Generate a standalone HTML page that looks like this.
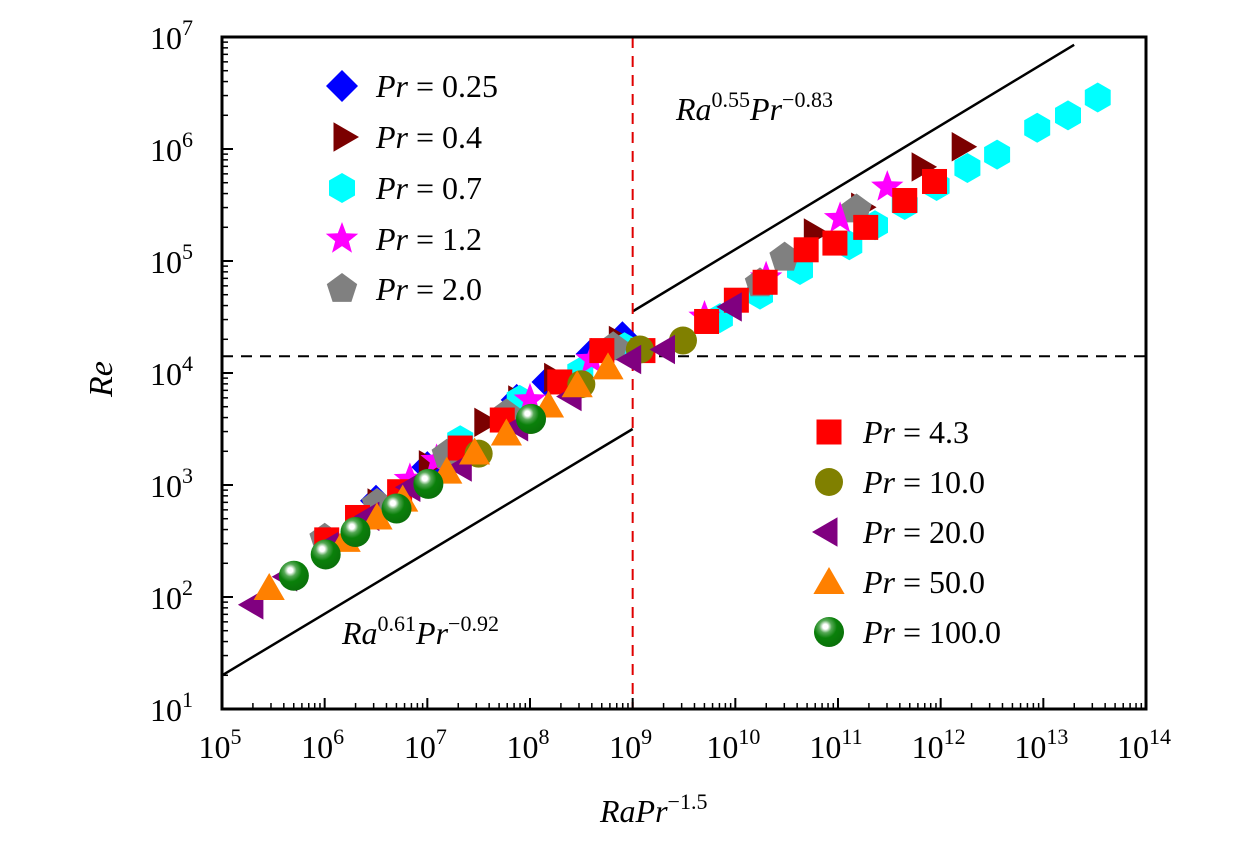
<!DOCTYPE html>
<html><head><meta charset="utf-8">
<style>
html,body{margin:0;padding:0;background:#fff;}
svg{display:block;}
text{font-family:"Liberation Serif",serif;fill:#000;}
</style></head>
<body>
<svg id="chart" width="1260" height="843" viewBox="0 0 1260 843" xmlns="http://www.w3.org/2000/svg">
<defs>
<radialGradient id="ballg" cx="0.38" cy="0.32" r="0.7">
<stop offset="0" stop-color="#ffffff"/>
<stop offset="0.12" stop-color="#ffffff"/>
<stop offset="0.3" stop-color="#55a855"/>
<stop offset="0.55" stop-color="#0a800a"/>
<stop offset="1" stop-color="#0a700a"/>
</radialGradient>
</defs>
<g id="marks"></g>
<g id="axes"></g>
<g id="legend"></g>
</svg>
<script>
// ---- data (log10 values) ----
const xTicks = [5,6,7,8,9,10,11,12,13,14];
const yTicks = [1,2,3,4,5,6,7];
const seriesNames = ["Pr = 0.25","Pr = 0.4","Pr = 0.7","Pr = 1.2","Pr = 2.0","Pr = 4.3","Pr = 10.0","Pr = 20.0","Pr = 50.0","Pr = 100.0"];
const pr025X = [7.30,7.87,8.17,8.60,8.90,6.5,7.0];
const pr025Y = [3.36,3.76,3.92,4.17,4.32,2.86,3.16];
const pr04X = [6.5,7.0,7.54,7.87,8.22,8.85,10.75,11.21,11.80,12.19];
const pr04Y = [2.84,3.18,3.56,3.76,3.96,4.29,5.25,5.48,5.84,6.02];
const pr07X = [7.32,7.90,8.49,8.92,9.85,10.24,10.63,11.11,11.36,11.65,11.96,12.26,12.55,12.94,13.24,13.53];
const pr07Y = [3.40,3.76,4.01,4.23,4.49,4.70,4.92,5.14,5.32,5.50,5.67,5.83,5.95,6.19,6.30,6.46];
const pr12X = [6.83,7.09,8.0,8.6,9.7,10.3,11.02,11.48];
const pr12Y = [3.05,3.22,3.76,4.12,4.50,4.85,5.38,5.66];
const pr20X = [6.0,6.51,7.19,7.77,8.81,10.24,10.48,11.18];
const pr20Y = [2.52,2.83,3.27,3.63,4.23,4.80,5.03,5.46];
const pr43X = [6.02,6.32,6.73,7.32,7.73,8.29,8.7,9.1,9.72,10.01,10.29,10.69,10.97,11.27,11.65,11.94];
const pr43Y = [2.51,2.71,2.94,3.33,3.58,3.92,4.20,4.20,4.46,4.65,4.81,5.10,5.16,5.30,5.54,5.71];
const pr10X = [7.5,8.0,8.5,9.07,9.49];
const pr10Y = [3.28,3.58,3.90,4.21,4.29];
const pr200X = [5.32,5.65,6.05,6.45,6.85,7.35,7.9,8.42,9.0,9.33,9.98];
const pr200Y = [1.93,2.18,2.45,2.72,2.98,3.16,3.52,3.79,4.12,4.21,4.59];
const pr50X = [5.46,6.20,6.51,6.76,7.19,7.46,7.77,8.18,8.46,8.76];
const pr50Y = [2.08,2.51,2.71,2.87,3.12,3.29,3.46,3.71,3.89,4.05];
const pr100X = [5.70,6.01,6.30,6.70,7.01,8.01];
const pr100Y = [2.19,2.38,2.58,2.79,3.01,3.59];
const fitLowX = [5,9];
const fitLowY = [1.30,3.50];
const fitHighX = [9,13.3];
const fitHighY = [4.55,6.93];
const thresholdX = 9;
const thresholdY = 4.15;

// ---- axis functions ----
const L=222,R=1146,T=37,B=709;
const X = v => L + (v-5)/9*(R-L);
const Y = v => B - (v-1)/6*(B-T);
const NS="http://www.w3.org/2000/svg";
function mk(tag, attrs, parent){const e=document.createElementNS(NS,tag);for(const k in attrs)e.setAttribute(k,attrs[k]);parent.appendChild(e);return e;}
const marks=document.getElementById('marks'), axes=document.getElementById('axes'), legend=document.getElementById('legend');

function poly(cx,cy,n,r,rot){let p=[];for(let i=0;i<n;i++){const a=rot+i*2*Math.PI/n;p.push((cx+r*Math.cos(a)).toFixed(1)+','+(cy+r*Math.sin(a)).toFixed(1));}return p.join(' ');}
function star(cx,cy,r){let p=[];for(let i=0;i<10;i++){const rr=i%2?r*0.42:r;const a=-Math.PI/2+i*Math.PI/5;p.push((cx+rr*Math.cos(a)).toFixed(1)+','+(cy+rr*Math.sin(a)).toFixed(1));}return p.join(' ');}
function marker(kind,cx,cy,parent){
  let e;
  if(kind==='diamond') e=mk('polygon',{points:poly(cx,cy,4,16,0),fill:'#0000ff'},parent);
  else if(kind==='right') e=mk('polygon',{points:poly(cx,cy,3,17,0),fill:'#7b0000'},parent);
  else if(kind==='hex') e=mk('polygon',{points:poly(cx,cy,6,15,Math.PI/6),fill:'#00ffff'},parent);
  else if(kind==='star') e=mk('polygon',{points:star(cx,cy,17),fill:'#ff00ff'},parent);
  else if(kind==='pent') e=mk('polygon',{points:poly(cx,cy,5,16,-Math.PI/2),fill:'#808080'},parent);
  else if(kind==='square') e=mk('rect',{x:cx-12.5,y:cy-12.5,width:25,height:25,fill:'#ff0000'},parent);
  else if(kind==='circle') e=mk('circle',{cx:cx,cy:cy,r:14,fill:'#808000'},parent);
  else if(kind==='left') e=mk('polygon',{points:poly(cx,cy,3,17,Math.PI),fill:'#800080'},parent);
  else if(kind==='up') e=mk('polygon',{points:poly(cx,cy+3,3,18,-Math.PI/2),fill:'#ff8000'},parent);
  else if(kind==='ball') e=mk('circle',{cx:cx,cy:cy,r:15,fill:'url(#ballg)'},parent);
  return e;
}
const kinds=['diamond','right','hex','star','pent','square','circle','left','up','ball'];
const xs=[pr025X,pr04X,pr07X,pr12X,pr20X,pr43X,pr10X,pr200X,pr50X,pr100X];
const ys=[pr025Y,pr04Y,pr07Y,pr12Y,pr20Y,pr43Y,pr10Y,pr200Y,pr50Y,pr100Y];

const fl=mk('line',{x1:X(fitLowX[0]),y1:Y(fitLowY[0]),x2:X(fitLowX[1]),y2:Y(fitLowY[1]),stroke:'#000','stroke-width':2.5},marks);


const fh=mk('line',{x1:X(fitHighX[0]),y1:Y(fitHighY[0]),x2:X(fitHighX[1]),y2:Y(fitHighY[1]),stroke:'#000','stroke-width':2.5},marks);


const hl=mk('line',{x1:L,y1:Y(thresholdY),x2:R,y2:Y(thresholdY),stroke:'#000','stroke-width':2,'stroke-dasharray':'11,8'},marks);


const vl=mk('line',{x1:X(thresholdX),y1:T,x2:X(thresholdX),y2:B,stroke:'#e00000','stroke-width':2,'stroke-dasharray':'11,8'},marks);



for(let s=0;s<kinds.length;s++){
  const g=mk('g',{},marks);
  
  
  for(let i=0;i<xs[s].length;i++){
    const m=marker(kinds[s],X(xs[s][i]),Y(ys[s][i]),g);
    
    
  }
}

function eq(x,y,e1,e2,name){
  const t=mk('text',{x:x,y:y,'font-size':32},marks);
  
  
  t.innerHTML='<tspan font-style="italic">Ra</tspan><tspan dy="-13" font-size="22">'+e1+'</tspan><tspan dy="13" font-style="italic">Pr</tspan><tspan dy="-13" font-size="22">'+e2+'</tspan>';
}
eq(676,120,'0.55','−0.83','fit-label-high');
eq(342,644,'0.61','−0.92','fit-label-low');

const fr=mk('rect',{x:L,y:T,width:R-L,height:B-T,fill:'none',stroke:'#000','stroke-width':3},axes);


for(const t of xTicks){
  const ln=mk('line',{x1:X(t),y1:B,x2:X(t),y2:B-11,stroke:'#000','stroke-width':2},axes);
  
  
  if(t<14){for(let k=2;k<10;k++){const mx=X(t+Math.log10(k));mk('line',{x1:mx,y1:B,x2:mx,y2:B-6,stroke:'#000','stroke-width':1.5},axes);}}
  const tx=mk('text',{x:X(t)-2,y:758,'font-size':32,'text-anchor':'middle'},axes);
  
  
  tx.innerHTML='10<tspan dy="-14" font-size="22">'+t+'</tspan>';
}
for(const t of yTicks){
  const ln=mk('line',{x1:L,y1:Y(t),x2:L+11,y2:Y(t),stroke:'#000','stroke-width':2},axes);
  
  
  if(t<7){for(let k=2;k<10;k++){const my=Y(t+Math.log10(k));mk('line',{x1:L,y1:my,x2:L+6,y2:my,stroke:'#000','stroke-width':1.5},axes);}}
  const tx=mk('text',{x:150,y:Y(t)+12,'font-size':32},axes);
  
  
  tx.innerHTML='10<tspan dy="-14" font-size="22">'+t+'</tspan>';
}
const xt=mk('text',{x:600,y:822,'font-size':32},axes);


xt.innerHTML='<tspan font-style="italic">RaPr</tspan><tspan dy="-13" font-size="22">−1.5</tspan>';
const yt=mk('text',{x:0,y:0,'font-size':34,'font-style':'italic',transform:'translate(112,397) rotate(-90)'},axes);


yt.textContent='Re';

const legRows=[[342,86],[342,137],[342,188],[342,239],[342,289],[829,432],[829,482],[829,532],[829,582],[829,632]];
for(let s=0;s<kinds.length;s++){
  const g=mk('g',{},legend);
  
  
  const [lx,ly]=legRows[s];
  marker(kinds[s],lx,ly,g);
  const t=mk('text',{x:lx+34,y:ly+11,'font-size':32},g);
  const val=seriesNames[s].split('= ')[1];
  t.innerHTML='<tspan font-style="italic">Pr</tspan> = '+val;
}
</script>
</body></html>
